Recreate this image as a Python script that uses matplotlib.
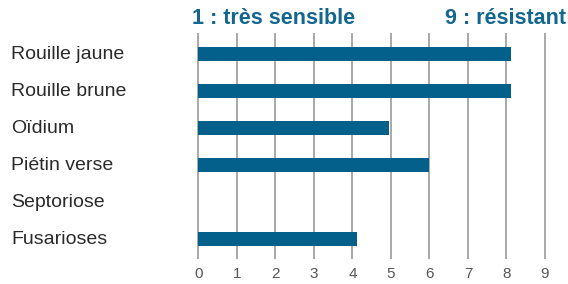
import matplotlib.pyplot as plt
from matplotlib.transforms import blended_transform_factory

diseases = ['Rouille jaune', 'Rouille brune', 'Oïdium', 'Piétin verse', 'Septoriose', 'Fusarioses']
scores = [8.12, 8.12, 4.95, 6.0, 0, 4.12]
ticks = list(range(10))

plt.rcParams['font.family'] = ['Liberation Sans', 'DejaVu Sans']

fig = plt.figure(figsize=(5.68, 2.84), dpi=100)
ax = fig.add_axes([190 / 568, 1 - 259 / 284, 370 / 568, 226 / 284])

for t in ticks:
    ax.axvline(t, color='#a8a8a8', lw=1.4, zorder=1)

ypos = list(range(len(diseases)))
ax.barh(ypos, scores, height=0.4, color='#03608a', zorder=2)

ax.set_xlim(-0.22, 9.39)
ax.set_ylim(len(diseases) - 0.46, -0.57)
ax.set_xticks(ticks)
ax.set_xticklabels([str(t) for t in ticks], fontsize=11, color='#555555')
ax.tick_params(axis='x', length=0, pad=6)
ax.set_yticks([])
for s in ax.spines.values():
    s.set_visible(False)

trans = blended_transform_factory(fig.transFigure, ax.transData)
for y, name in zip(ypos, diseases):
    ax.text(11 / 568, y, name, transform=trans,
            ha='left', va='center', fontsize=14, color='#2a2a2a')

fig.text(274 / 568, 1 - 18 / 284, '1 : très sensible', ha='center', va='center',
         fontsize=15.5, fontweight='bold', color='#12668f')
fig.text(566 / 568, 1 - 18 / 284, '9 : résistant', ha='right', va='center',
         fontsize=15.5, fontweight='bold', color='#12668f')

fig.savefig('out.png', dpi=100, facecolor='white')
